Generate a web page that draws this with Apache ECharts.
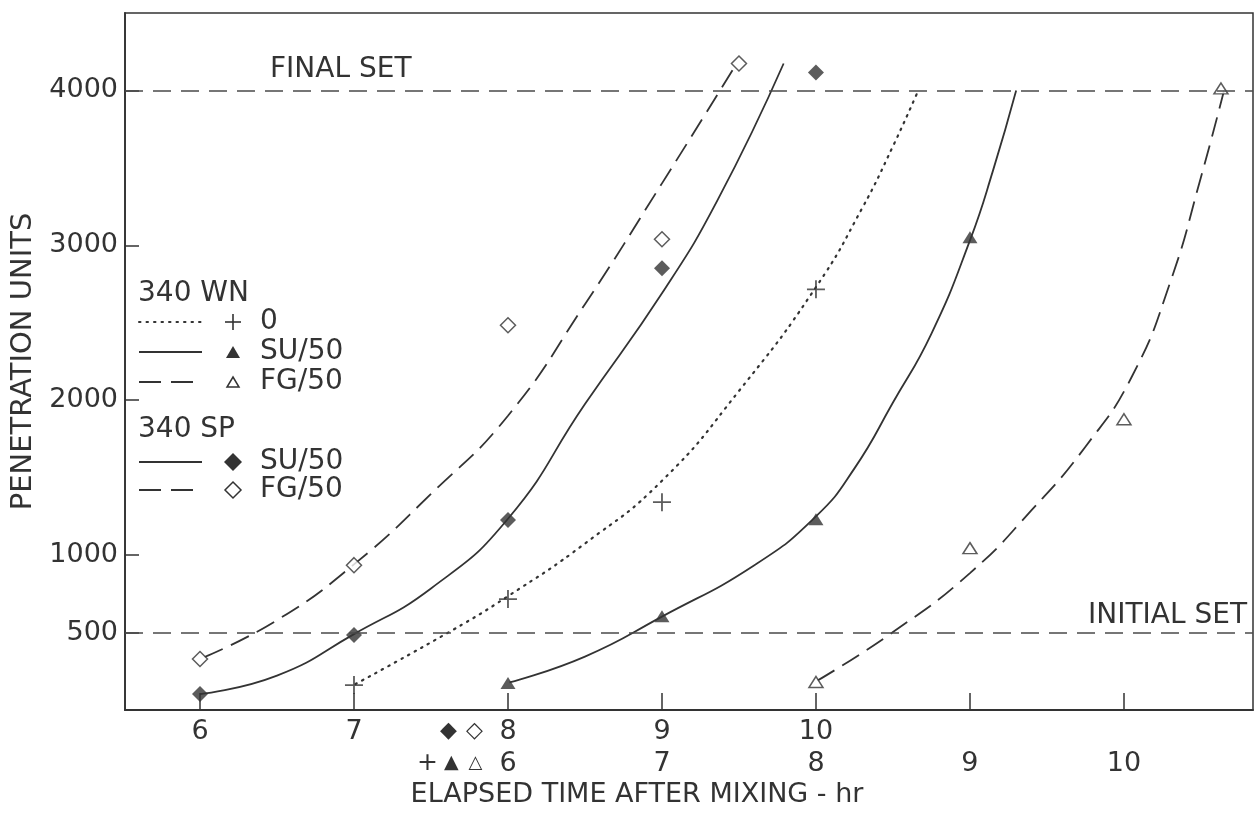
<!DOCTYPE html>
<html>
<head>
<meta charset="utf-8">
<script src="https://cdn.jsdelivr.net/npm/echarts@6/dist/echarts.min.js"></script>
<style>
  html, body { margin: 0; padding: 0; background: #ffffff; }
  #chart { width: 1258px; height: 815px; }
</style>
</head>
<body>
<div id="chart"></div>
<script>
// Hour scales: 340 SP samples use the upper row, 340 WN samples the lower row
// (the WN clock runs 2 hr behind the SP clock on the same axis).
const spHourLabels = [6, 7, 8, 9, 10];
const wnHourLabels = [6, 7, 8, 9, 10];
const hourTickMarks = [6, 7, 8, 9, 10, 11, 12];      // on the SP scale
const penetrationTicks = [500, 1000, 2000, 3000, 4000];
const finalSet = 4000;
const initialSet = 500;

// Measured penetration readings [hr, units]
const spSuPoints = [[6, 103], [7, 484], [8, 1226], [9, 2852], [10, 4116]];
const spFgPoints = [[6, 329], [7, 935], [8, 2484], [9, 3039], [9.5, 4174]];
const wn0Points  = [[5, 161], [6, 716], [7, 1342], [8, 2716]];
const wnSuPoints = [[6, 174], [7, 606], [8, 1232], [9, 3052]];
const wnFgPoints = [[8, 181], [9, 1045], [10, 1877], [10.63, 4013]];

// Faired curves through each set [hr, units]
const spSuCurve = [[6.0, 103], [6.5, 222], [7.0, 490], [7.5, 785], [8.0, 1235], [8.5, 1975],
                   [9.0, 2690], [9.36, 3290], [9.79, 4174]];
const spFgCurve = [[6.03, 342], [6.5, 580], [7.0, 940], [7.5, 1395], [8.0, 1900], [8.5, 2620],
                   [9.0, 3400], [9.47, 4150]];
const wn0Curve  = [[5.01, 168], [5.64, 516], [6.0, 735], [6.5, 1075], [7.0, 1480], [7.5, 2060],
                   [8.0, 2730], [8.3, 3240], [8.5, 3640], [8.66, 3990]];
const wnSuCurve = [[6.01, 178], [6.5, 345], [7.0, 603], [7.6, 935], [8.0, 1250], [8.25, 1560],
                   [8.5, 1985], [8.75, 2430], [9.0, 3032], [9.15, 3484], [9.3, 4000]];
const wnFgCurve = [[8.01, 190], [8.5, 503], [9.0, 884], [9.4, 1290], [9.75, 1700], [10.05, 2150],
                   [10.3, 2760], [10.5, 3440], [10.65, 4000]];

const ink = '#333333';
const font = 'DejaVu Sans';
const plusPath = 'path://M9,0H11V9H20V11H11V20H9V11H0V9H9Z';

const chart = echarts.init(document.getElementById('chart'), null, { renderer: 'canvas' });

// Hand-built key: line sample, marker and label for each mix
const keyGroups = [
  { title: '340 WN', rows: [
    { label: '0', line: 'dotted', mark: 'plus' },
    { label: 'SU/50', line: 'solid', mark: 'triFilled' },
    { label: 'FG/50', line: 'dashed', mark: 'triOpen' }
  ]},
  { title: '340 SP', rows: [
    { label: 'SU/50', line: 'solid', mark: 'diamondFilled' },
    { label: 'FG/50', line: 'dashed', mark: 'diamondOpen' }
  ]}
];

function keyMarker(kind, cx, cy) {
  switch (kind) {
    case 'plus':
      return { type: 'group', children: [
        { type: 'line', shape: { x1: cx - 8, y1: cy, x2: cx + 8, y2: cy }, style: { stroke: ink, lineWidth: 1.6 } },
        { type: 'line', shape: { x1: cx, y1: cy - 8, x2: cx, y2: cy + 8 }, style: { stroke: ink, lineWidth: 1.6 } }
      ]};
    case 'triFilled':
      return { type: 'polygon', shape: { points: [[cx, cy - 6], [cx + 7, cy + 6], [cx - 7, cy + 6]] },
               style: { fill: ink } };
    case 'triOpen':
      return { type: 'polygon', shape: { points: [[cx, cy - 5], [cx + 6, cy + 5], [cx - 6, cy + 5]] },
               style: { fill: '#fff', stroke: ink, lineWidth: 1.5 } };
    case 'diamondFilled':
      return { type: 'polygon', shape: { points: [[cx, cy - 9], [cx + 9, cy], [cx, cy + 9], [cx - 9, cy]] },
               style: { fill: ink } };
    default:
      return { type: 'polygon', shape: { points: [[cx, cy - 8], [cx + 8, cy], [cx, cy + 8], [cx - 8, cy]] },
               style: { fill: '#fff', stroke: ink, lineWidth: 1.5 } };
  }
}

function keySample(kind, y) {
  const x1 = 139, x2 = 202;
  const style = { stroke: ink, lineWidth: kind === 'dotted' ? 2 : 1.8 };
  if (kind === 'dotted') { style.lineDash = [1.5, 6]; style.lineCap = 'round'; }
  if (kind === 'dashed') style.lineDash = [22, 10];
  return { type: 'line', shape: { x1, y1: y, x2, y2: y }, style };
}

function buildKey() {
  const els = [];
  const titleY = [294, 430];
  const rowY = [[322, 352, 382], [462, 490]];
  keyGroups.forEach((g, gi) => {
    els.push({ type: 'text', x: 138, y: titleY[gi],
      style: { text: g.title, fontSize: 28, fontFamily: font, fill: ink, verticalAlign: 'middle' } });
    g.rows.forEach((r, ri) => {
      const y = rowY[gi][ri];
      els.push(keySample(r.line, y));
      els.push(keyMarker(r.mark, 233, y));
      els.push({ type: 'text', x: 260, y: y,
        style: { text: r.label, fontSize: 28, fontFamily: font, fill: ink, verticalAlign: 'middle' } });
    });
  });
  return els;
}

function curveSeries(name, data, axis, lineType) {
  const lineStyle = { color: ink, width: 1.8 };
  if (lineType === 'dotted') { lineStyle.type = [1.5, 6]; lineStyle.cap = 'round'; lineStyle.width = 2.2; }
  if (lineType === 'dashed') lineStyle.type = [20, 9];
  return { name, type: 'line', xAxisIndex: axis, data, smooth: 0.5,
           showSymbol: false, silent: true, z: 2, lineStyle };
}

function pointSeries(name, data, axis, symbol, size, filled) {
  return { name, type: 'scatter', xAxisIndex: axis, data, symbol, symbolSize: size, z: 4, silent: true,
           itemStyle: filled ? { color: ink }
                             : { color: '#ffffff', borderColor: ink, borderWidth: 1.5 } };
}

const labelText = { color: ink, fontFamily: font, fontSize: 27 };

const spCurveWithRefs = curveSeries('340 SP SU/50', spSuCurve, 0, 'solid');
spCurveWithRefs.markLine = {
  silent: true, symbol: ['none', 'none'],
  lineStyle: { color: '#4a4a4a', width: 1.5, type: [18, 10] },
  label: { color: ink, fontFamily: font, fontSize: 28 },
  data: [
    { yAxis: finalSet, label: { formatter: 'FINAL SET', position: 'insideStartTop', distance: [145, 7] } },
    { yAxis: initialSet, label: { formatter: 'INITIAL SET', position: 'insideEndTop', distance: [6, 3] } }
  ]
};

const option = {
  backgroundColor: '#ffffff',
  animation: false,
  grid: { left: 125, right: 5, top: 13, bottom: 105, show: true, borderColor: ink, borderWidth: 1.5,
          backgroundColor: 'transparent' },
  xAxis: [
    { type: 'value', min: 5.513, max: 12.838, position: 'bottom',
      name: 'ELAPSED TIME AFTER MIXING - hr', nameLocation: 'middle', nameGap: 71,
      nameTextStyle: { color: ink, fontFamily: font, fontSize: 27, padding: [0, 104, 0, 0] },
      axisLine: { show: true, lineStyle: { color: ink, width: 1.8 } },
      axisTick: { show: true, inside: true, length: 17, customValues: hourTickMarks,
                  lineStyle: { color: ink, width: 1.5 } },
      splitLine: { show: false },
      axisLabel: Object.assign({}, labelText, { customValues: spHourLabels, margin: 8,
        formatter: v => v === 8 ? '{sd|◆}{so|◇}{gap| }8{pad| }' : String(v),
        rich: {
          sd: { width: 26, align: 'center', fontSize: 22, fontFamily: font, color: ink },
          so: { width: 26, align: 'center', fontSize: 22, fontFamily: font, color: ink },
          gap: { width: 12 },
          pad: { width: 64 }
        } }) },
    { type: 'value', min: 3.513, max: 10.838, position: 'bottom',
      axisLine: { show: false }, axisTick: { show: false }, splitLine: { show: false },
      axisLabel: Object.assign({}, labelText, { customValues: wnHourLabels, margin: 40,
        formatter: v => v === 6 ? '{p|+}{tf|▲}{to|△}{gap| }6{pad| }' : String(v),
        rich: {
          p: { width: 24, align: 'center', fontSize: 25, fontFamily: font, color: ink },
          tf: { width: 24, align: 'center', fontSize: 19, fontFamily: font, color: ink },
          to: { width: 24, align: 'center', fontSize: 18, fontFamily: font, color: ink },
          gap: { width: 12 },
          pad: { width: 84 }
        } }) }
  ],
  yAxis: {
    type: 'value', min: 0, max: 4500,
    name: 'PENETRATION UNITS', nameLocation: 'middle', nameGap: 84,
    nameTextStyle: { color: ink, fontFamily: font, fontSize: 29 },
    axisLine: { show: true, lineStyle: { color: ink, width: 1.8 } },
    axisTick: { show: true, inside: true, length: 14, customValues: penetrationTicks,
                lineStyle: { color: ink, width: 1.5 } },
    splitLine: { show: false },
    axisLabel: Object.assign({}, labelText, { customValues: penetrationTicks, margin: 7,
      formatter: v => String(v) })
  },
  graphic: buildKey(),
  series: [
    spCurveWithRefs,
    curveSeries('340 SP FG/50', spFgCurve, 0, 'dashed'),
    curveSeries('340 WN 0', wn0Curve, 1, 'dotted'),
    curveSeries('340 WN SU/50', wnSuCurve, 1, 'solid'),
    curveSeries('340 WN FG/50', wnFgCurve, 1, 'dashed'),
    pointSeries('340 SP SU/50 pts', spSuPoints, 0, 'diamond', 16, true),
    pointSeries('340 SP FG/50 pts', spFgPoints, 0, 'diamond', 15, false),
    pointSeries('340 WN 0 pts', wn0Points, 1, plusPath, 18, true),
    pointSeries('340 WN SU/50 pts', wnSuPoints, 1, 'triangle', [15, 12], true),
    pointSeries('340 WN FG/50 pts', wnFgPoints, 1, 'triangle', [14, 11], false)
  ]
};

chart.setOption(option);
</script>
</body>
</html>
